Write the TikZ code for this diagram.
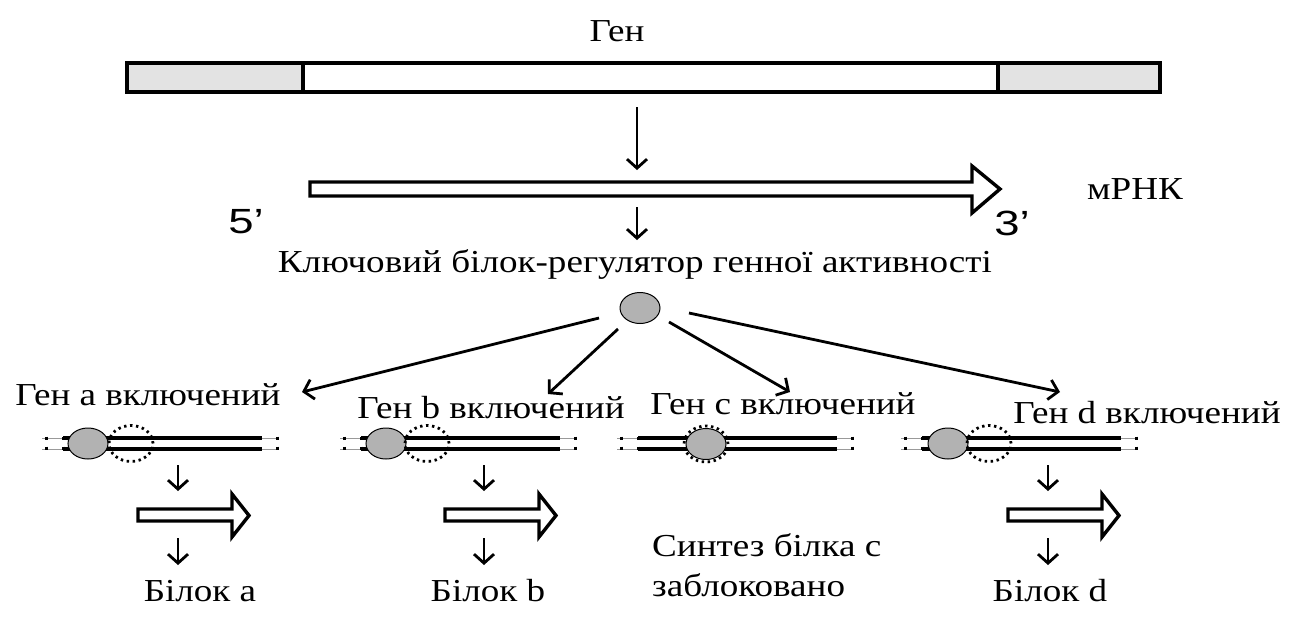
\documentclass[tikz,border=0pt]{standalone}
\usepackage{fontspec}
\setmainfont{Liberation Serif}[FakeStretch=1.16]
\newfontfamily\primefont{Liberation Sans}[FakeStretch=1.3]
\usetikzlibrary{arrows.meta,shapes.geometric}
\begin{document}
\begin{tikzpicture}[x=1pt,y=-1pt,
  every node/.style={inner sep=0pt},
  txt/.style={anchor=base, font=\fontsize{32}{38}\selectfont},
  prime/.style={anchor=base, font=\primefont\fontsize{35}{40}\selectfont},
  tip/.style={line width=2.8pt, -{Straight Barb[length=9pt,width=20pt]}},
  hollow/.style={draw, line width=3.4pt, fill=white, miter limit=10},
  barbox/.style={draw, line width=3.4pt},
  protein/.style={ellipse, draw, line width=1pt, fill=black!30, minimum width=40pt, minimum height=31pt},
  site/.style={ellipse, draw, line width=2.8pt, dash pattern=on 2.4pt off 3.6pt, minimum width=44pt, minimum height=36pt},
  strand/.pic={
    % grey broken ends of the DNA double strand
    \draw[black!40, line width=1pt] (-21,-5.5) -- (0,-5.5) (-21,5.5) -- (0,5.5)
                                    (199,-5.5) -- (216,-5.5) (199,5.5) -- (216,5.5);
    \draw[line width=3pt, dash pattern=on 3pt off 7pt] (-17,-7) -- (-17,7);
    \draw[line width=3pt, dash pattern=on 3pt off 7pt] (0,-7) -- (0,7);
    \draw[line width=3pt, dash pattern=on 3pt off 7pt] (214,-7) -- (214,7);
    \draw[line width=3.4pt] (0,-5.5) -- (199,-5.5) (0,5.5) -- (199,5.5);
  },
  flow/.pic={
    \draw[hollow] (0,0) -- (94,0) -- (94,-15) -- (111,6.5) -- (94,28) -- (94,12) -- (0,12) -- cycle;
  }
]
\useasboundingbox (0,0) rectangle (1299,633);

% gene
\node[txt] (gene) at (617,41) {Ген};
\draw[barbox, fill=black!11] (127,63) rectangle (303,92);
\draw[barbox, fill=white] (303,63) rectangle (998,92);
\draw[barbox, fill=black!11] (998,63) rectangle (1160,92);

% transcription and translation
\coordinate (geneout) at (637,107);
\coordinate (rnain) at (637,170);
\draw[tip] (geneout) -- (rnain);
\draw[hollow] (310,182) -- (972,182) -- (972,166) -- (1000,189) -- (972,213) -- (972,196) -- (310,196) -- cycle;
\node[prime] (five) at (246,233) {5’};
\node[prime] (three) at (1012,235) {3’};
\node[txt] (mrna) at (1135,199) {мРНК};
\coordinate (rnaout) at (637,207);
\coordinate (regin) at (637,240);
\draw[tip] (rnaout) -- (regin);
\node[txt] (regtext) at (635,272) {Ключовий білок-регулятор генної активності};
\node[protein] (reg) at (640,308) {};

% regulator acting on the four genes
\coordinate (s1) at (599,318); \coordinate (e1) at (302,392);
\coordinate (s2) at (618,329); \coordinate (e2) at (548,394);
\coordinate (s3) at (669,322); \coordinate (e3) at (790,392);
\coordinate (s4) at (689,313); \coordinate (e4) at (1060,392);
\draw[tip] (s1) -- (e1);
\draw[tip] (s2) -- (e2);
\draw[tip] (s3) -- (e3);
\draw[tip] (s4) -- (e4);

\node[txt] (la) at (148,405) {Ген а включений};
\node[txt] (lb) at (491,418) {Ген b включений};
\node[txt] (lc) at (783,414) {Ген с включений};
\node[txt] (ld) at (1147,423) {Ген d включений};

% gene strands with bound regulator
\pic at (63,443.5) {strand};
\pic at (361,443.5) {strand};
\pic at (638,443.5) {strand};
\pic at (922,443.5) {strand};

\node[protein] (pa) at (88,443.5) {};
\node[site] (sa) at (131,443.5) {};
\node[protein] (pb) at (386,443.5) {};
\node[site] (sb) at (427,443.5) {};
\node[site] (sc) at (706,444) {};
\node[protein] (pc) at (706,444) {};
\node[protein] (pd) at (948,443.5) {};
\node[site] (sd) at (989,443.5) {};

% expression of genes a, b, d
\foreach \x/\n in {178/a, 484/b, 1048/d}{
  \coordinate (t\n) at (\x,465);
  \coordinate (m\n) at (\x,491);
  \coordinate (u\n) at (\x,538);
  \coordinate (v\n) at (\x,565);
  \draw[tip] (t\n) -- (m\n);
  \draw[tip] (u\n) -- (v\n);
}
\pic at (138,509) {flow};
\pic at (445,509) {flow};
\pic at (1008,509) {flow};

\node[txt] (ba) at (200,601) {Білок а};
\node[txt] (bb) at (488,601) {Білок b};
\node[txt] (bd) at (1050,601) {Білок d};

\node[txt, anchor=base west] (c1) at (652,556) {Синтез білка с};
\node[txt, anchor=base west] (c2) at (652,596) {заблоковано};
\end{tikzpicture}
\end{document}
